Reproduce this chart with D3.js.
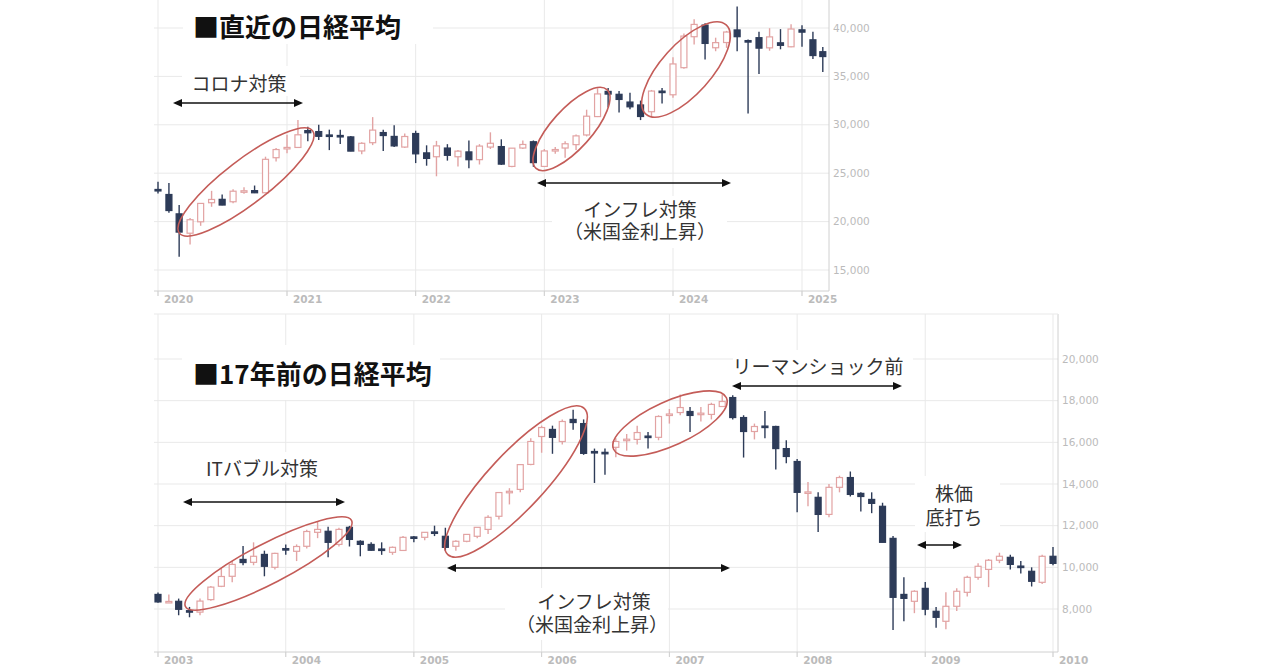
<!DOCTYPE html>
<html><head><meta charset="utf-8">
<script src="https://cdn.jsdelivr.net/npm/d3@7"></script>
<style>body{margin:0;background:#fff;}svg{display:block;}</style>
</head><body><svg id="c" width="1280" height="670"></svg>
<script>
// ---------- DATA: recent Nikkei (monthly, Jan 2020 - Mar 2025) ----------
const topStart = "2020-01", topEnd = "2025-04";
const topOpen  = [23320,22800,20800,18800,19980,21950,22300,22050,23140,23200,22980,26600,
                  27560,27660,29400,29300,28950,28900,28750,27300,28150,29200,28800,27700,
                  29100,27100,26700,27600,26700,27200,26400,27700,27750,25700,27600,28250,
                  25700,27400,27600,27950,28950,30850,33450,33150,32350,32050,31350,33480,
                  33100,35900,39100,40300,37960,38500,39800,38700,39000,37950,38470,38060,
                  39810,38780,37550];
const topHigh  = [24115,23995,21720,20365,21916,23178,22800,23338,23559,23725,26706,27602,
                  28979,30500,29800,30000,29500,29480,28850,28200,30795,29500,29960,29100,
                  29388,27880,28338,28000,27400,28389,28000,29222,28500,27600,28383,28380,
                  27500,27700,28300,29000,31560,33772,33800,33500,33300,32500,33600,33800,
                  36984,39426,40900,40500,39000,39700,42224,38800,39600,39980,39884,40398,
                  40288,39600,38050];
const topLow   = [22892,20916,16358,17646,19566,21529,21700,21894,22878,22948,22948,26200,
                  27055,27596,28300,28419,27385,28010,27272,26954,27900,27293,27700,27600,
                  26044,25775,24681,26300,25688,25520,25900,27500,25850,25621,27500,25661,
                  25661,27000,26600,27400,28800,30800,31800,31275,31600,30487,30800,32200,
                  32800,35800,38300,36733,37600,37950,37611,31156,35247,37651,37800,38000,
                  38055,36800,35450];
const topClose = [23205,21143,18917,20193,21878,22288,21710,23140,23185,22977,26433,27444,
                  27663,28966,29178,28812,28860,28791,27283,28089,29452,28892,27821,28791,
                  27001,26526,27821,26847,27279,26393,27801,28091,25937,27587,27968,26094,
                  27300,27445,28041,28856,30888,33189,33172,32619,31857,30858,33487,33464,
                  36287,39166,40369,38406,38488,39583,39102,38648,37920,39081,38208,39895,
                  39572,37155,37050];
const topYTicks = [15000,20000,25000,30000,35000,40000];
const topYears  = [2020,2021,2022,2023,2024,2025];

// ---------- DATA: 17 years earlier (monthly, Jan 2003 - Jan 2010) ----------
const botStart = "2003-01", botEnd = "2010-02";
const botOpen  = [8700,8330,8370,7920,7850,8450,9090,9570,10380,10240,10620,10000,
                  10900,10770,11010,11680,11730,11100,11920,11250,11100,10880,10720,10810,
                  11460,11440,11700,11490,11010,11250,11490,11820,12450,13600,13740,14940,
                  16280,16620,16040,17100,16900,15560,15520,15760,16120,16140,16300,16240,
                  17320,17430,17480,17370,17340,17720,18150,17190,16520,16780,16760,15700,
                  15080,13580,13360,12540,13840,14310,13550,13260,12930,11390,8700,8370,
                  8990,7890,7410,8130,8800,9520,9900,10340,10480,10060,9810,9280,
                  10530];
const botHigh  = [8790,8700,8500,8100,8500,9100,9950,10300,11030,11200,10800,10700,
                  11100,11100,11800,12190,11950,11900,11990,11300,11200,11200,11000,11500,
                  11500,11700,12000,11900,11300,11600,11900,12500,13600,13800,14940,16200,
                  16800,16800,17100,17560,17100,15700,15700,16200,16400,16800,16500,17300,
                  17600,18300,17700,17700,17900,18300,18260,17300,16900,17500,16800,16100,
                  15200,14100,13600,14000,14400,14600,13600,13600,13100,11500,9520,8900,
                  9300,8100,8800,9000,9600,10200,10400,10700,10600,10300,10000,10600,
                  10980];
const botLow   = [8300,8300,7700,7603,7700,8400,9050,9280,10100,10100,9570,9900,
                  10600,10300,10900,11400,10480,11000,11000,10530,10800,10600,10600,10800,
                  11200,11300,11500,10800,10800,11200,11400,11600,12300,13020,13600,14900,
                  15500,15450,15900,16600,15400,14050,14440,15280,15600,15900,15700,16100,
                  16900,17300,16500,17000,17100,17700,17100,15270,16140,16200,14700,15000,
                  12640,12930,11700,12400,13600,13400,12680,12600,11200,6990,7410,7800,
                  7700,7100,7030,7900,8600,9400,9050,10200,9900,9700,9080,9200,
                  10100];
const botClose = [8340,8363,7985,7860,8380,9050,9560,10140,10230,10530,10050,10670,
                  10850,11000,11720,11820,11200,11820,11340,11100,10820,10850,10960,11440,
                  11420,11680,11660,10960,11250,11580,11920,12400,13590,13650,14930,16040,
                  16710,16240,17000,16950,15470,15510,15460,16040,16150,16470,16270,17240,
                  17360,17670,17290,17400,17820,17960,17190,16520,16760,16740,15700,15320,
                  13600,13620,12540,13840,14310,13500,13400,13070,11200,8560,8510,8850,
                  7990,7600,8130,8850,9520,10050,10340,10530,10140,10040,9330,10530,
                  10190];
const botYTicks = [8000,10000,12000,14000,16000,18000,20000];
const botYears  = [2003,2004,2005,2006,2007,2008,2009,2010];

// ---------- DRAW ----------
const svg = d3.select("#c");
const JP = "'Noto Sans CJK JP','Noto Sans',sans-serif";
const JP2 = "'Liberation Sans','Noto Sans CJK JP',sans-serif";
const UP_STROKE = "#e2a3a3", UP_FILL = "#ffffff", DOWN = "#2d3b58";
const GRID = "#e9e9e9", AXIS = "#d0d0d0", LABEL = "#bbbbbb";
const parseM = d3.timeParse("%Y-%m");

function chart(cfg) {
  const g = svg.append("g");
  const months = d3.timeMonth.range(parseM(cfg.start), parseM(cfg.end));
  const x = d3.scaleTime()
      .domain([new Date(cfg.years[0],0,1), new Date(cfg.years[cfg.years.length-1],0,1)])
      .range(cfg.xr);
  const y = d3.scaleLinear().domain(cfg.yd).range(cfg.yr);
  const P = cfg.plot;

  // grid
  g.selectAll(".hg").data(cfg.yTicks).join("line")
    .attr("x1", P.x0).attr("x2", P.x1).attr("y1", d=>y(d)).attr("y2", d=>y(d))
    .attr("stroke", GRID).attr("stroke-width", 1);
  g.selectAll(".vg").data(cfg.years).join("line")
    .attr("x1", d=>x(new Date(d,0,1))).attr("x2", d=>x(new Date(d,0,1)))
    .attr("y1", P.y0).attr("y2", P.y1 + 5)
    .attr("stroke", GRID).attr("stroke-width", 1);
  // frame
  g.append("line").attr("x1",P.x0).attr("x2",P.x1).attr("y1",P.y1).attr("y2",P.y1).attr("stroke",AXIS);
  g.append("line").attr("x1",P.x1).attr("x2",P.x1).attr("y1",P.y0).attr("y2",P.y1).attr("stroke",AXIS);
  if (cfg.topBorder) g.append("line").attr("x1",P.x0).attr("x2",P.x1).attr("y1",P.y0).attr("y2",P.y0).attr("stroke",GRID);
  g.selectAll(".yt").data(cfg.years).join("line")
    .attr("x1", d=>x(new Date(d,0,1))).attr("x2", d=>x(new Date(d,0,1)))
    .attr("y1", P.y1).attr("y2", P.y1+5).attr("stroke", AXIS);

  // labels
  g.selectAll(".yl").data(cfg.yTicks).join("text")
    .attr("x", P.x1 + 4).attr("y", d=>y(d)).attr("dy","0.35em")
    .attr("font-family","'DejaVu Sans',sans-serif").attr("font-size",10.5)
    .attr("fill", LABEL).text(d3.format(","));
  g.selectAll(".xl").data(cfg.years).join("text")
    .attr("x", d=>x(new Date(d,0,1)) + 6).attr("y", P.y1 + 12)
    .attr("font-family","'DejaVu Sans',sans-serif").attr("font-size",10.5).attr("font-weight",600)
    .attr("fill", LABEL).text(d=>d);

  // white boxes behind annotations
  g.selectAll(".wb").data(cfg.boxes).join("rect")
    .attr("x", d=>d[0]).attr("y", d=>d[1]).attr("width", d=>d[2]-d[0]).attr("height", d=>d[3]-d[1])
    .attr("fill","#fff");

  // candles
  const data = months.map((m,i)=>({m, o:cfg.O[i], h:cfg.H[i], l:cfg.L[i], c:cfg.C[i]}));
  const bw = 6;
  const cg = g.selectAll(".cd").data(data).join("g");
  cg.append("line")
    .attr("x1", d=>x(d.m)).attr("x2", d=>x(d.m))
    .attr("y1", d=>y(d.h)).attr("y2", d=>y(d.l))
    .attr("stroke", d=>d.c>=d.o?UP_STROKE:DOWN).attr("stroke-width",1.4);
  cg.append("rect")
    .attr("x", d=>x(d.m)-bw/2).attr("width", bw)
    .attr("y", d=>y(Math.max(d.o,d.c)))
    .attr("height", d=>Math.max(1.5, Math.abs(y(d.o)-y(d.c))))
    .attr("fill", d=>d.c>=d.o?UP_FILL:DOWN)
    .attr("stroke", d=>d.c>=d.o?UP_STROKE:DOWN).attr("stroke-width",1.2);

  // ellipses
  g.selectAll(".el").data(cfg.ellipses).join("ellipse")
    .attr("transform", d=>`translate(${d[0]},${d[1]}) rotate(${d[4]})`)
    .attr("rx", d=>d[2]).attr("ry", d=>d[3])
    .attr("fill","none").attr("stroke","#c45c58").attr("stroke-width",1.6);

  // arrows
  cfg.arrows.forEach(a=>{
    const [xa,xb,yy] = a, hl=9, hw=4;
    g.append("line").attr("x1",xa+2).attr("x2",xb-2).attr("y1",yy).attr("y2",yy)
      .attr("stroke","#111").attr("stroke-width",1.5);
    g.append("path").attr("d",`M${xa},${yy}L${xa+hl},${yy-hw}L${xa+hl},${yy+hw}Z`).attr("fill","#111");
    g.append("path").attr("d",`M${xb},${yy}L${xb-hl},${yy-hw}L${xb-hl},${yy+hw}Z`).attr("fill","#111");
  });

  // texts
  cfg.texts.forEach(t=>{
    g.append("text").attr("x",t.x).attr("y",t.y).attr("dominant-baseline","central")
      .attr("text-anchor", t.anchor||"middle")
      .attr("font-family", t.font||JP).attr("font-size", t.size).attr("font-weight", t.weight||400)
      .attr("fill", t.color||"#333").text(t.s);
  });
}

chart({
  start: topStart, end: topEnd, years: topYears,
  xr: [158, 802], yd: [15000, 40000], yr: [270, 28],
  plot: {x0: 154, x1: 829, y0: 0, y1: 291}, topBorder: false,
  yTicks: topYTicks, O: topOpen, H: topHigh, L: topLow, C: topClose,
  boxes: [[183,0,433,44],[182,66,300,96],[552,196,727,248]],
  ellipses: [[246,182,84,22,-37.5],[571.5,129,53,20,-48],[686,69.5,60,25,-48]],
  arrows: [[173,303,103],[537,731,183]],
  texts: [
    {s:"■直近の日経平均", x:193, y:25, size:26, weight:700, anchor:"start", color:"#111"},
    {s:"コロナ対策", x:239, y:82, size:19},
    {s:"インフレ対策", x:640, y:210, size:19, font:JP2},
    {s:"（米国金利上昇）", x:640, y:232, size:19, font:JP2}
  ]
});

chart({
  start: botStart, end: botEnd, years: botYears,
  xr: [158, 1053], yd: [8000, 20000], yr: [609, 359],
  plot: {x0: 154, x1: 1058, y0: 314, y1: 652}, topBorder: true,
  yTicks: botYTicks, O: botOpen, H: botHigh, L: botLow, C: botClose,
  boxes: [[182,345,440,400],[196,452,330,482],[733,350,913,380],[915,476,1000,532],[505,588,668,640]],
  ellipses: [[268.5,563.5,93.5,20,-27.4],[516,481.5,100,28,-47],[670,423.5,62,22,-24.5]],
  arrows: [[183,345,502],[732,902,386],[917,962,545],[447,730,568]],
  texts: [
    {s:"■17年前の日経平均", x:193, y:372, size:26, weight:700, anchor:"start", color:"#111"},
    {s:"ITバブル対策", x:262, y:467, size:19},
    {s:"リーマンショック前", x:818, y:365, size:19},
    {s:"株価", x:954, y:494, size:19, font:JP2},
    {s:"底打ち", x:954, y:518, size:19, font:JP2},
    {s:"インフレ対策", x:594, y:602, size:19, font:JP2},
    {s:"（米国金利上昇）", x:592, y:625, size:19, font:JP2}
  ]
});
</script></body></html>
